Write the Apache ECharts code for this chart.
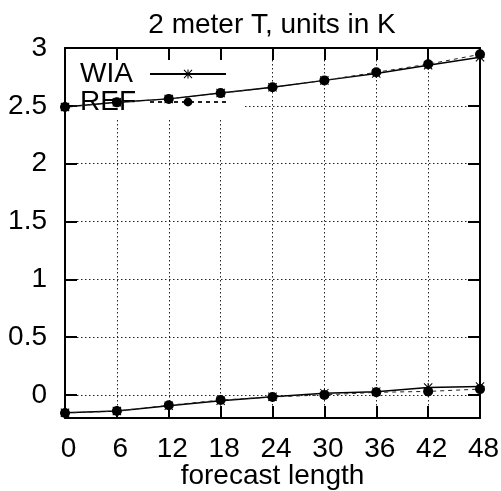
<!DOCTYPE html>
<html>
<head>
<meta charset="utf-8">
<script src="https://cdn.jsdelivr.net/npm/echarts@6/dist/echarts.min.js"></script>
<style>
html,body{margin:0;padding:0;background:#fff;}
#chart{width:501px;height:491px;}
</style>
</head>
<body>
<div id="chart"></div>
<script>
// ---- data ----
var forecastLength = [0, 6, 12, 18, 24, 30, 36, 42, 48];
var wiaUpper = [2.49, 2.53, 2.56, 2.61, 2.66, 2.72, 2.78, 2.85, 2.92];
var refUpper = [2.49, 2.53, 2.56, 2.61, 2.66, 2.72, 2.79, 2.86, 2.945];
var wiaLower = [-0.155, -0.14, -0.095, -0.05, -0.017, 0.015, 0.028, 0.063, 0.073];
var refLower = [-0.157, -0.14, -0.09, -0.045, -0.018, 0.0, 0.022, 0.03, 0.05];
var yTicks = [0, 0.5, 1, 1.5, 2, 2.5, 3];
var xTicks = [0, 6, 12, 18, 24, 30, 36, 42, 48];
var titleText = '2 meter T, units in K';
var xName = 'forecast length';

function pairs(xs, ys) { return xs.map(function (x, i) { return [x, ys[i]]; }); }

var FONT = 'Liberation Sans';
var asterisk = 'path://M0,4.4h10v1.2h-10z M4.4,0h1.2v10h-1.2z M0.8,0L10,9.2L9.2,10L0,0.8Z M9.2,0L10,0.8L0.8,10L0,9.2Z';

var gridPos = { left: 65, right: 21, top: 48, bottom: 73, outerBoundsMode: 'none', containLabel: false };

var chart = echarts.init(document.getElementById('chart'));
var wiaStyle = {
  type: 'line', name: 'WIA', symbol: asterisk, symbolSize: 9,
  lineStyle: { color: '#000', width: 1.5, type: 'solid' },
  itemStyle: { color: '#000' }, z: 6, animation: false
};
var refStyle = {
  type: 'line', name: 'REF', symbol: 'circle', symbolSize: 10,
  lineStyle: { color: '#222', width: 1, type: [4, 4] },
  itemStyle: { color: '#000' }, z: 7, animation: false
};

chart.setOption({
  backgroundColor: '#fff',
  animation: false,
  title: {
    text: titleText, left: 272, top: 11, textAlign: 'center', padding: 0,
    textStyle: { fontFamily: FONT, fontSize: 28, fontWeight: 'normal', color: '#000' }
  },
  legend: {
    data: ['WIA', 'REF'], orient: 'vertical', align: 'right',
    left: 65, top: 48, padding: [12, 17, 3, 15], itemGap: 0,
    itemWidth: 76, itemHeight: 11, selectedMode: false,
    backgroundColor: '#fff', z: 1,
    formatter: function (n) { return '{t|' + n + '}'; },
    textStyle: {
      fontFamily: FONT, fontSize: 28, color: '#000', lineHeight: 27,
      rich: { t: { width: 65, align: 'left', fontFamily: FONT, fontSize: 28, color: '#000', lineHeight: 27 } }
    }
  },
  grid: [
    Object.assign({}, gridPos),
    Object.assign({}, gridPos)
  ],
  xAxis: [
    { type: 'value', gridIndex: 0, position: 'bottom', min: 0, max: 48, interval: 6, z: 5,
      axisLine: { show: true, onZero: false, lineStyle: { color: '#000', width: 2 } },
      axisTick: { show: true, inside: true, length: 12, lineStyle: { color: '#000', width: 2 } },
      axisLabel: { show: true, margin: 17, padding: [0, 0, 0, 7], fontFamily: FONT, fontSize: 28, color: '#000' },
      splitLine: { show: false },
      name: xName, nameLocation: 'middle', nameGap: 44, nameMoveOverlap: false,
      nameTextStyle: { fontFamily: FONT, fontSize: 28, color: '#000' } },
    { type: 'value', gridIndex: 0, position: 'top', min: 0, max: 48, interval: 6, z: 5,
      axisLine: { show: true, onZero: false, lineStyle: { color: '#000', width: 2 } },
      axisTick: { show: true, inside: true, length: 12, lineStyle: { color: '#000', width: 2 } },
      axisLabel: { show: false }, splitLine: { show: false } },
    { type: 'value', gridIndex: 1, min: 0, max: 48, interval: 6, z: 0,
      axisLine: { show: false }, axisTick: { show: false }, axisLabel: { show: false },
      splitLine: { show: true, lineStyle: { color: '#222', width: 1, type: [1.5, 2.5] } } }
  ],
  yAxis: [
    { type: 'value', gridIndex: 0, position: 'left', min: -0.2, max: 3, z: 5,
      axisLine: { show: true, onZero: false, lineStyle: { color: '#000', width: 2 } },
      axisTick: { show: true, inside: true, length: 12, customValues: yTicks, lineStyle: { color: '#000', width: 2 } },
      axisLabel: { show: true, margin: 18, customValues: yTicks, fontFamily: FONT, fontSize: 28, color: '#000' },
      splitLine: { show: false } },
    { type: 'value', gridIndex: 0, position: 'right', min: -0.2, max: 3, z: 5,
      axisLine: { show: true, onZero: false, lineStyle: { color: '#000', width: 2 } },
      axisTick: { show: true, inside: true, length: 12, customValues: yTicks, lineStyle: { color: '#000', width: 2 } },
      axisLabel: { show: false }, splitLine: { show: false } },
    { type: 'value', gridIndex: 1, min: -0.2, max: 3, z: 0,
      axisLine: { show: false },
      axisTick: { show: false, customValues: yTicks },
      axisLabel: { show: false, customValues: yTicks },
      splitLine: { show: true, lineStyle: { color: '#222', width: 1, type: [1.5, 2.5] } } }
  ],
  series: [
    Object.assign({}, wiaStyle, { data: pairs(forecastLength, wiaUpper), xAxisIndex: 0, yAxisIndex: 0 }),
    Object.assign({}, wiaStyle, { data: pairs(forecastLength, wiaLower), xAxisIndex: 0, yAxisIndex: 0 }),
    Object.assign({}, refStyle, { data: pairs(forecastLength, refUpper), xAxisIndex: 0, yAxisIndex: 0 }),
    Object.assign({}, refStyle, { data: pairs(forecastLength, refLower), xAxisIndex: 0, yAxisIndex: 0 })
  ]
});
</script>
</body>
</html>
